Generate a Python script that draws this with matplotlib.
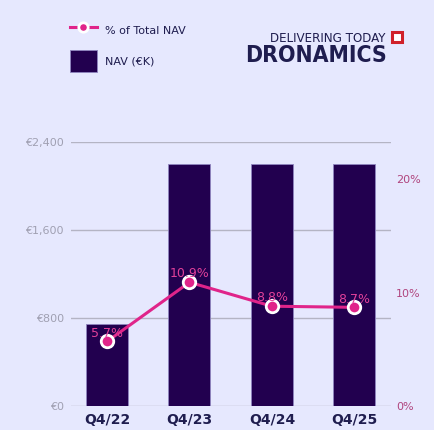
import matplotlib.pyplot as plt
from matplotlib.patches import Rectangle

# data
quarters = ['Q4/22', 'Q4/23', 'Q4/24', 'Q4/25']
nav_k = [750, 2200, 2200, 2200]
pct_nav = [5.7, 10.9, 8.8, 8.7]
pct_labels = ['5.7%', '10.9%', '8.8%', '8.7%']
left_ticks = [0, 800, 1600, 2400]
left_tick_labels = ['€0', '€800', '€1,600', '€2,400']
right_ticks = [0, 10, 20]
right_tick_labels = ['0%', '10%', '20%']

BG = '#e6e8fe'
BAR = '#22004f'
PINK = '#e0248a'
NAVY = '#1f1d4f'

fig = plt.figure(figsize=(4.34, 4.30), dpi=100, facecolor=BG)
ax = fig.add_axes([0.163, 0.055, 0.737, 0.614])
ax.set_facecolor(BG)

x = list(range(len(quarters)))
bars = ax.bar(x, nav_k, width=0.51, color=BAR, edgecolor='#8f86c0',
              linewidth=0.6, zorder=2, label='NAV (€K)')
ax.set_ylim(0, 2400)
ax.set_xlim(-0.44, 3.44)
ax.set_yticks(left_ticks)
ax.set_yticklabels(left_tick_labels)
ax.grid(axis='y', color='#b4b4c4', linewidth=1.0, zorder=0)
ax.set_axisbelow(True)
ax.tick_params(axis='y', length=0, pad=5, labelsize=8, labelcolor='#a0a0b2')
ax.set_xticks(x)
ax.set_xticklabels(quarters, fontsize=10, fontweight='bold', color=NAVY)
ax.tick_params(axis='x', length=0, pad=5)
for s in ax.spines.values():
    s.set_visible(False)

ax2 = ax.twinx()
line, = ax2.plot(x, pct_nav, color=PINK, linewidth=2.2, marker='o',
                 markersize=9, markerfacecolor=PINK, markeredgecolor='white',
                 markeredgewidth=2, zorder=5, label='% of Total NAV')
ax2.set_ylim(0, 23.2)
ax2.set_yticks(right_ticks)
ax2.set_yticklabels(right_tick_labels)
ax2.tick_params(axis='y', length=0, pad=4, labelsize=8, labelcolor='#b0447e')
for s in ax2.spines.values():
    s.set_visible(False)

for xi, v, lab in zip(x, pct_nav, pct_labels):
    ax2.annotate(lab, (xi, v), xytext=(0, 6), textcoords='offset points',
                 ha='center', va='center', fontsize=9, color='#e2409a',
                 zorder=6)

# legend top left
fig.legend([line, bars], ['% of Total NAV', 'NAV (€K)'],
           loc='upper left', bbox_to_anchor=(0.161, 0.955), frameon=False,
           fontsize=8, handlelength=2.4, handleheight=2.67, labelspacing=0.75,
           handletextpad=0.8, borderpad=0, borderaxespad=0, markerscale=0.75,
           labelcolor=NAVY)

# logo
fig.text(0.889, 0.903, 'DELIVERING TODAY', ha='right', va='baseline',
         fontsize=9.5, color=NAVY, fontstretch='condensed')
fig.text(0.892, 0.8565, 'DRONAMICS', ha='right', va='baseline',
         fontsize=16.5, fontweight='bold', color=NAVY, fontstretch='condensed')
fig.patches.append(Rectangle((0.904, 0.903), 0.022, 0.022, transform=fig.transFigure,
                             facecolor='white', edgecolor='#d0202a', linewidth=2.2))

fig.savefig('out.png', dpi=100, facecolor=BG)
